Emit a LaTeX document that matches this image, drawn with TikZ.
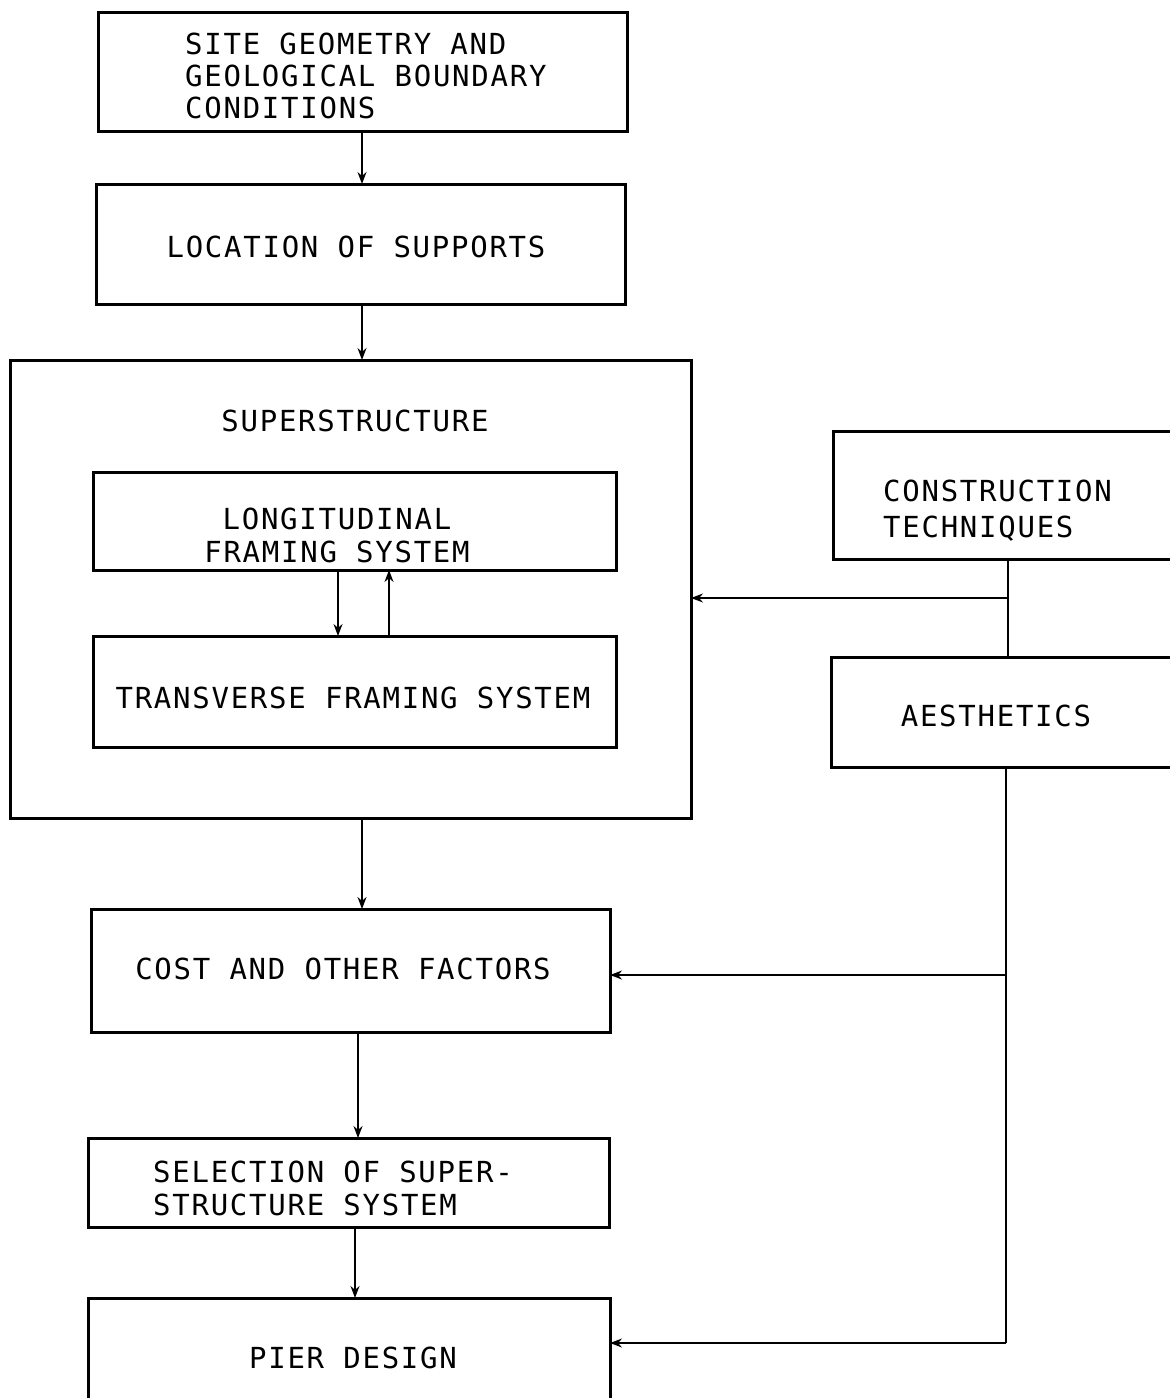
\documentclass[tikz,border=0pt]{standalone}
\usepackage{fontspec}
\newfontfamily\pf[LetterSpace=6]{DejaVu Sans Mono}
\usetikzlibrary{arrows.meta}
\begin{document}
\begin{tikzpicture}[x=1pt,y=-1pt,
  box/.style={draw,line width=3pt,inner sep=0pt,outer sep=0pt},
  lbl/.style={inner sep=0pt,font=\pf\fontsize{29}{33}\selectfont,align=left},
  con/.style={line width=1.5pt},
  arr/.style={line width=1.5pt,-{Stealth[length=12pt,width=9pt]}}]
\useasboundingbox (0,0) rectangle (1170,1398);
\clip (0,0) rectangle (1170,1398);
% boxes
\node[box,minimum width=529pt,minimum height=119pt] (site) at (362.5,71.5) {};
\node[box,minimum width=529pt,minimum height=120pt] (loc) at (360.5,244) {};
\node[box,minimum width=681pt,minimum height=458pt] (sup) at (350.5,589) {};
\node[box,minimum width=523pt,minimum height=98pt] (lon) at (354.5,521) {};
\node[box,minimum width=523pt,minimum height=111pt] (tra) at (354.5,691.5) {};
\node[box,minimum width=352pt,minimum height=128pt] (cons) at (1009,495) {};
\node[box,minimum width=354pt,minimum height=110pt] (aes) at (1008,712) {};
\node[box,minimum width=519pt,minimum height=123pt] (cost) at (350.5,970.5) {};
\node[box,minimum width=521pt,minimum height=89pt] (sel) at (348.5,1182.5) {};
\node[box,minimum width=522pt,minimum height=122pt] (pier) at (349,1359) {};
% texts
\node[lbl,anchor=north west,font=\pf\fontsize{29}{32}\selectfont] (tsite) at (185,33) {SITE GEOMETRY AND\\GEOLOGICAL BOUNDARY\\CONDITIONS};
\node[lbl] (tloc) at (356,247) {LOCATION OF SUPPORTS};
\node[lbl] (tsup) at (355,421) {SUPERSTRUCTURE};
\node[lbl,align=center] (tlon) at (337,535) {LONGITUDINAL\\FRAMING SYSTEM};
\node[lbl] (ttra) at (353,698) {TRANSVERSE FRAMING SYSTEM};
\node[lbl,anchor=north west,font=\pf\fontsize{29}{36}\selectfont] (tcons) at (883,480) {CONSTRUCTION\\TECHNIQUES};
\node[lbl] (taes) at (996,716) {AESTHETICS};
\node[lbl] (tcost) at (343,969) {COST AND OTHER FACTORS};
\node[lbl,anchor=north west] (tsel) at (153,1161) {SELECTION OF SUPER-\\STRUCTURE SYSTEM};
\node[lbl] (tpier) at (353,1358) {PIER DESIGN};
% coordinates
\coordinate (s1) at (362,0);
\coordinate (s2) at (362,0);
\coordinate (d1) at (338,0);
\coordinate (u1) at (389,0);
\coordinate (s3) at (362,0);
\coordinate (s4) at (358,0);
\coordinate (s5) at (355,0);
\coordinate (j1) at (1008,598);
\coordinate (j2) at (1006,975);
\coordinate (j3) at (1006,1343);
% connectors
\draw[arr] (s1 |- site.south) -- (s1 |- loc.north);
\draw[arr] (s2 |- loc.south) -- (s2 |- sup.north);
\draw[arr] (d1 |- lon.south) -- (d1 |- tra.north);
\draw[arr] (u1 |- tra.north) -- (u1 |- lon.south);
\draw[con] (j1 |- cons.south) -- (j1 |- aes.north);
\draw[arr] (j1) -- (j1 -| sup.east);
\draw[con] (j3 |- aes.south) -- (j3);
\draw[arr] (j2) -- (j2 -| cost.east);
\draw[arr] (j3) -- (j3 -| pier.east);
\draw[arr] (s3 |- sup.south) -- (s3 |- cost.north);
\draw[arr] (s4 |- cost.south) -- (s4 |- sel.north);
\draw[arr] (s5 |- sel.south) -- (s5 |- pier.north);
\end{tikzpicture}
\end{document}
